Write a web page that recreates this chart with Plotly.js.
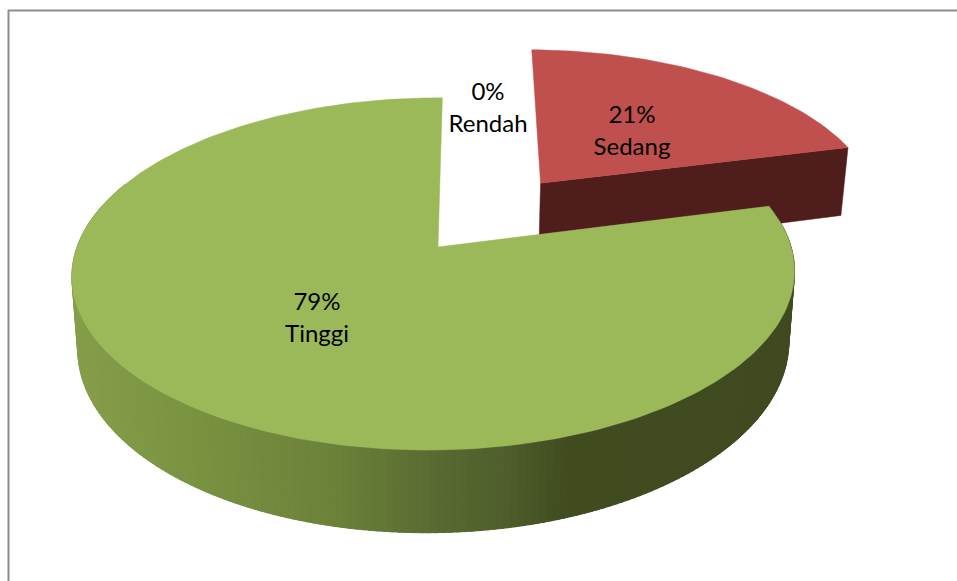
<!DOCTYPE html>
<html><head><meta charset="utf-8">
<script src="https://cdn.plot.ly/plotly-3.0.1.min.js"></script>
<style>html,body{margin:0;padding:0;background:#fff}#c{width:957px;height:581px}</style></head>
<body><div id="c"></div>
<script>
const categories = ['Tinggi','Sedang','Rendah'];
const percents = [79,21,0];
const topColors = ['#9bb959','#c0504d','#c0504d'];
const wallColorRed = '#4f1d1b';
const wallStops = [[70,[134,158,74]],[200,[120,146,64]],[330,[108,130,58]],[430,[90,108,50]],[500,[80,95,44]],[570,[64,76,32]],[800,[64,74,32]]];

// projection of the tilted disc onto the page (axes run in page units)
const CX=438, CY=247, W=357, K=172, P=0.153, Q=0.011, SK=5, H=70;
function proj(u,v,z){
  const d=1+P*v+Q*u, s=1-0.016*z;
  return [CX+s*(W*u+SK*v)/d, CY-(K*v)/d+z*H/d];
}
function arc(a0,a1,ou,ov,z,n){
  const xs=[],ys=[];
  for(let i=0;i<=n;i++){const t=(a0+(a1-a0)*i/n)*Math.PI/180;
    const p=proj(ou+Math.sin(t),ov+Math.cos(t),z);xs.push(p[0]);ys.push(p[1]);}
  return [xs,ys];
}
function poly(xs,ys,color){
  return {type:'scatter',mode:'lines',x:xs,y:ys,fill:'toself',fillcolor:color,
    line:{color:color,width:0.5},hoverinfo:'skip',showlegend:false};
}
function wallColor(x){
  for(let i=1;i<wallStops.length;i++){
    const a=wallStops[i-1],b=wallStops[i];
    if(x<=b[0]){const t=Math.max(0,(x-a[0])/(b[0]-a[0]));
      const c=a[1].map((v,j)=>Math.round(v+(b[1][j]-v)*t));return `rgb(${c})`;}
  }
  const l=wallStops[wallStops.length-1][1];return `rgb(${l})`;
}
const traces=[];
// page order of slices: Sedang starts at 12 o'clock, clockwise, then Tinggi, then Rendah
const sed={a0:0,a1:percents[1]*3.6}, tin={a0:sed.a1,a1:sed.a1+percents[0]*3.6};
const OU=0.30, OV=0.395, RZ=1.08;
// Sedang: walls, then top
{
  const c=Math.cos(sed.a1*Math.PI/180), s=Math.sin(sed.a1*Math.PI/180);
  const a=proj(OU,OV,0), b=proj(OU,OV,RZ), e=proj(OU+s,OV+c,0), f=proj(OU+s,OV+c,RZ);
  traces.push(poly([a[0],e[0],f[0],b[0],a[0]],[a[1],e[1],f[1],b[1],a[1]],wallColorRed));
  const t=arc(sed.a0,sed.a1,OU,OV,0,60);
  traces.push(poly([a[0],...t[0],a[0]],[a[1],...t[1],a[1]],topColors[1]));
}
// Tinggi: outer wall strips (each overlapping the next to hide seams), then top
{
  const N=280, step=(tin.a1-tin.a0)/N;
  const r=Math.PI/180;
  for(let i=0;i<N;i++){
    const a0=tin.a0+step*i, a1=a0+step*2.5, am=a0+step*0.5;
    if(Math.cos(am*r)>0.35) continue;
    const p=arc(a0,a1,0,0,0,3), q=arc(a1,a0,0,0,1,3);
    traces.push(poly([...p[0],...q[0],p[0][0]],[...p[1],...q[1],p[1][0]],wallColor(proj(Math.sin(am*r),Math.cos(am*r),0)[0])));
  }
  const a=proj(0,0,0), t=arc(tin.a0,tin.a1,0,0,0,240);
  traces.push(poly([a[0],...t[0],a[0]],[a[1],...t[1],a[1]],topColors[0]));
}
const labelX=[317,632,488], labelY=[320,133,110];
const labelText=[0,1,2].map(i=>percents[i]+'%<br>'+categories[i]);
traces.push({type:'scatter',mode:'text',x:labelX,y:labelY,text:labelText,textposition:'middle center',
  textfont:{family:'Lato, Carlito, sans-serif',size:24,color:'#000'},hoverinfo:'skip',showlegend:false});
Plotly.newPlot('c',traces,{
  width:957,height:581,margin:{l:0,r:0,t:0,b:0},paper_bgcolor:'#fff',plot_bgcolor:'#fff',showlegend:false,
  xaxis:{range:[0,957],visible:false,fixedrange:true},
  yaxis:{range:[581,0],visible:false,fixedrange:true},
  shapes:[
    {type:'line',xref:'x',yref:'y',x0:8,y0:10.5,x1:957,y1:10.5,line:{color:'#8c8c8c',width:2},layer:'below'},
    {type:'line',xref:'x',yref:'y',x0:8.5,y0:10,x1:8.5,y1:581,line:{color:'#8c8c8c',width:2},layer:'below'}
  ]
},{displayModeBar:false,staticPlot:true});
</script></body></html>
